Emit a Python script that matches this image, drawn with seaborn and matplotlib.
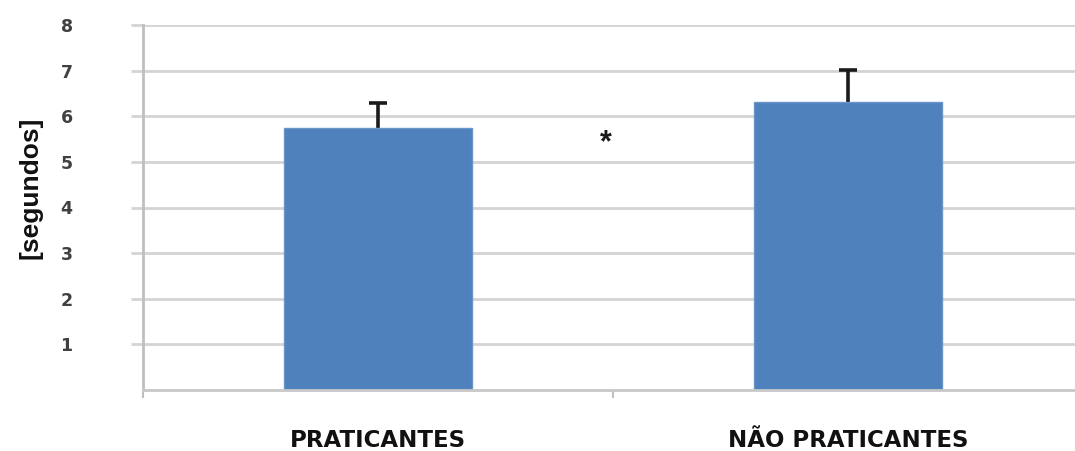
import matplotlib
matplotlib.use("Agg")
import matplotlib.pyplot as plt
import seaborn as sns
import pandas as pd
import numpy as np

categories = ["PRATICANTES", "NÃO PRATICANTES"]
means = [5.74, 6.31]
errors_up = [0.55, 0.71]
yticks = [1, 2, 3, 4, 5, 6, 7, 8]
ylabel = "[segundos]"
star_text = "*"
star_x = 0.485
star_y = 5.4

sns.set_theme(style="white")
plt.rcParams["font.family"] = ["Liberation Sans", "DejaVu Sans"]

df = pd.DataFrame({"grupo": categories, "tempo": means})

fig = plt.figure(figsize=(10.75, 4.51), dpi=100)
ax_w_px = 940
ax = fig.add_axes([143 / 1075, 1 - 390 / 451, ax_w_px / 1075, (390 - 25) / 451])

grid_c = "#d4d4d4"
ax.set_axisbelow(True)
ax.yaxis.grid(True, color=grid_c, linewidth=2)

sns.barplot(data=df, x="grupo", y="tempo", color="#4f81bd", saturation=1,
            width=0.402, edgecolor="#6a95c9", linewidth=1, errorbar=None, ax=ax,
            zorder=2)

x = np.arange(len(categories))
ax.errorbar(x, means, yerr=errors_up, fmt="none",
            ecolor="#1a1a1a", elinewidth=2.6, capsize=6.5, capthick=2.6, zorder=1.5)

ax.text(star_x, star_y, star_text, ha="center", va="center", fontsize=22,
        fontweight="bold", color="#1a1a1a")

ax.set_xlim(-0.5, 1.5)
ax.set_ylim(0, 8)
ax.set_yticks(yticks)
ax.set_yticklabels([str(t) for t in yticks], fontfamily=["DejaVu Sans"])
ax.set_xticks([-0.5, 0.5, 1.5], minor=True)
ax.set_xticks(x)
ax.set_xticklabels(categories, fontfamily=["DejaVu Sans"],
                   fontweight="bold", fontsize=16.5, color="#111111")
for lbl in ax.get_xticklabels():
    lbl.set_verticalalignment("baseline")
ax.tick_params(axis="x", which="major", length=0, pad=41)
ax.tick_params(axis="x", which="minor", length=6, width=1.5, color="#bfbfbf", bottom=True)
ax.tick_params(axis="y", length=9, width=2, color=grid_c, left=True, pad=46,
               labelsize=12.5, labelcolor="#404040")
for lbl in ax.get_yticklabels():
    lbl.set_fontweight("bold")
    lbl.set_horizontalalignment("center")

ax.set_xlabel("")
ax.set_ylabel(ylabel, fontsize=19, fontweight="bold", color="#111111")
ax.yaxis.set_label_coords(-101 / ax_w_px, (390 - 187.5) / 365)

for s in ["top", "right"]:
    ax.spines[s].set_visible(False)
ax.spines["left"].set_color("#bfbfbf")
ax.spines["left"].set_linewidth(2)
ax.spines["bottom"].set_color("#c8c8c8")
ax.spines["bottom"].set_linewidth(2)

fig.savefig("out.png", dpi=100)
